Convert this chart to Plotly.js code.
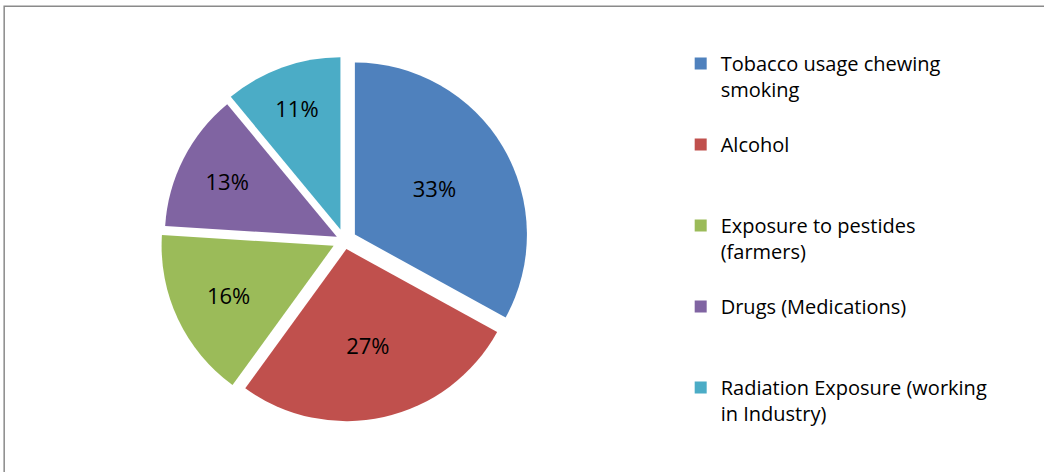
<!DOCTYPE html>
<html>
<head>
<meta charset="utf-8">
<script src="https://cdn.plot.ly/plotly-3.0.1.min.js"></script>
<style>html,body{margin:0;padding:0;background:#fff;}#chart{width:1044px;height:472px;}</style>
</head>
<body>
<div id="chart"></div>
<script>
var categories = [
  "Tobacco usage chewing<br>smoking<br> ",
  "Alcohol<br> <br> ",
  "Exposure to pestides<br>(farmers)<br> ",
  "Drugs (Medications)<br> <br> ",
  "Radiation Exposure (working<br>in Industry)<br> "
];
var shares = [33, 27, 16, 13, 11];
var sliceColors = ["#4F81BD", "#C0504D", "#9BBB59", "#8064A2", "#4BACC6"];

var trace = {
  type: "pie",
  labels: categories,
  values: shares,
  sort: false,
  direction: "clockwise",
  rotation: 0,
  pull: [0.07, 0.05, 0.07, 0.05, 0.07],
  marker: {colors: sliceColors, line: {color: "#ffffff", width: 0}},
  textinfo: "percent",
  textposition: "inside",
  insidetextorientation: "horizontal",
  insidetextfont: {color: "#000000", size: 22, family: "'Open Sans', sans-serif"},
  domain: {x: [0.15, 0.51], y: [0.1, 0.88]},
  hoverinfo: "label+percent"
};

var layout = {
  width: 1044,
  height: 472,
  margin: {l: 0, r: 0, t: 0, b: 0},
  paper_bgcolor: "#ffffff",
  font: {family: "'Open Sans', sans-serif", color: "#000000"},
  showlegend: true,
  legend: {
    x: 0.652, y: 0.907, xanchor: "left", yanchor: "top",
    valign: "top",
    font: {size: 20, color: "#000000"},
    itemwidth: 30,
    bgcolor: "rgba(0,0,0,0)"
  },
  shapes: [{
    type: "rect", xref: "paper", yref: "paper",
    x0: 0.004, x1: 1.02, y0: -0.05, y1: 0.987,
    line: {color: "#8a8a8a", width: 1.5}
  }]
};

Plotly.newPlot("chart", [trace], layout, {displayModeBar: false, staticPlot: true});
</script>
</body>
</html>
